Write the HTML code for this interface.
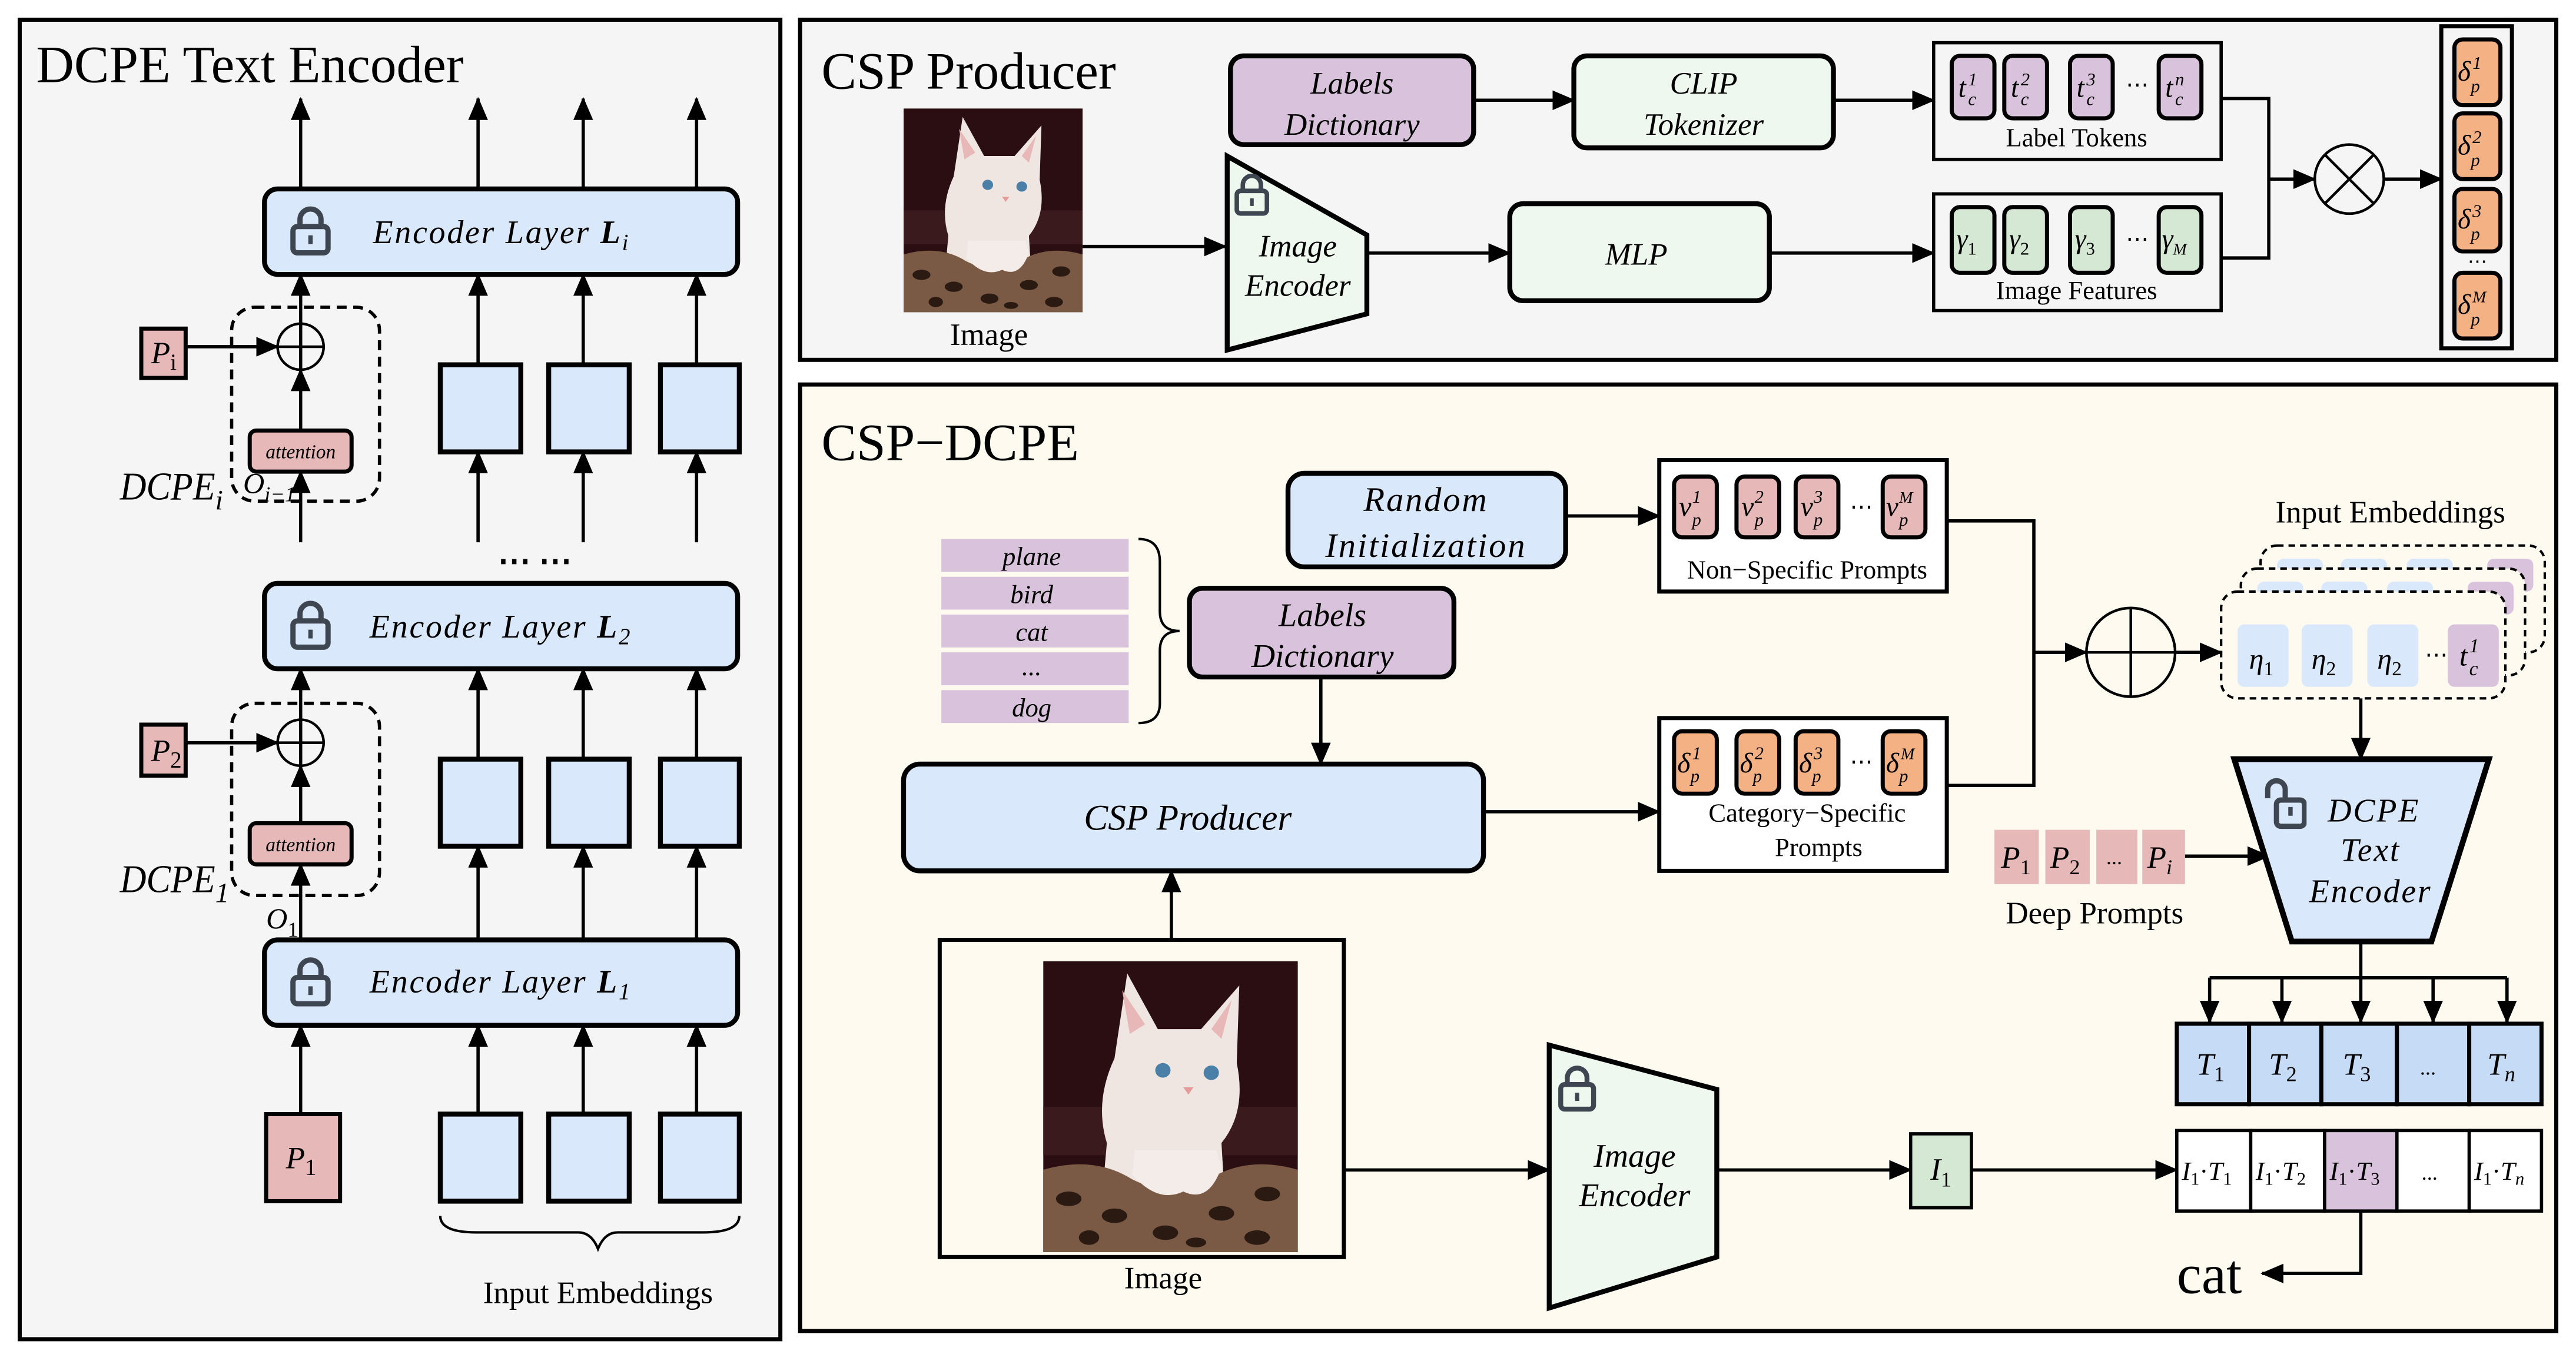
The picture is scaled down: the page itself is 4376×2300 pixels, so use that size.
<!DOCTYPE html>
<html><head><meta charset="utf-8"><style>
html,body{margin:0;padding:0;background:#fff;}
svg{display:block;}
text{font-family:"Liberation Serif",serif;}
.i{font-style:italic;}
</style></head><body>
<svg width="4376" height="2300" viewBox="0 0 1568 824" preserveAspectRatio="none" xmlns="http://www.w3.org/2000/svg">
<defs>
<marker id="a" markerUnits="userSpaceOnUse" markerWidth="14" markerHeight="12" refX="13" refY="6" orient="auto"><path d="M0,0 L14,6 L0,12 z" fill="#000"/></marker>
<symbol id="lock" viewBox="0 0 24 30"><path d="M6,14 V9 a6,6 0 0 1 12,0 V14" fill="none" stroke="#3e4651" stroke-width="3"/><rect x="2" y="13" width="20" height="15" rx="2.5" fill="none" stroke="#3e4651" stroke-width="3"/><line x1="12" y1="18" x2="12" y2="23" stroke="#3e4651" stroke-width="2.5"/></symbol>
<symbol id="ulock" viewBox="0 0 24 30"><path d="M2,12 V7 a5,5 0 0 1 10,0 V13" fill="none" stroke="#3e4651" stroke-width="3"/><rect x="7" y="13" width="16" height="15" rx="2.5" fill="none" stroke="#3e4651" stroke-width="3"/><line x1="15" y1="17" x2="15" y2="22" stroke="#3e4651" stroke-width="2.5"/></symbol>
<symbol id="cat" viewBox="0 0 100 120" preserveAspectRatio="none">
<rect width="100" height="120" fill="#2a0e12"/>
<rect y="60" width="100" height="20" fill="#3a1a1c"/>
<path d="M28,40 L33,5 L45,28 L62,28 L77,10 L76,42 Q80,62 70,75 L72,110 L22,110 L25,75 Q20,58 28,40 z" fill="#efe6e1"/>
<path d="M31,12 L34,30 L40,26 z M74,16 L70,32 L66,28 z" fill="#e8b8b8"/>
<circle cx="47" cy="45" r="3" fill="#4a7fa8"/><circle cx="66" cy="46" r="3" fill="#4a7fa8"/>
<path d="M55,52 l4,0 l-2,3 z" fill="#e79a9a"/>
<path d="M0,86 Q20,80 35,90 Q50,98 65,90 Q80,80 100,86 V120 H0 z" fill="#7a5a44"/>
<g fill="#2a1a12"><ellipse cx="10" cy="98" rx="5" ry="3"/><ellipse cx="28" cy="105" rx="5" ry="3"/><ellipse cx="48" cy="112" rx="5" ry="3"/><ellipse cx="70" cy="104" rx="5" ry="3"/><ellipse cx="88" cy="96" rx="5" ry="3"/><ellipse cx="18" cy="114" rx="4" ry="3"/><ellipse cx="84" cy="114" rx="5" ry="3"/><ellipse cx="60" cy="116" rx="4" ry="2"/></g>
<path d="M35,88 Q45,100 55,95 Q65,100 70,85 L68,78 L36,78 z" fill="#f3ece8"/>
</symbol>
</defs>

<!-- LEFT PANEL -->
<rect x="12" y="12" width="463" height="803" fill="#f5f5f5" stroke="#000" stroke-width="2.5"/>
<text x="22" y="50" font-size="32">DCPE Text Encoder</text>
<g stroke="#000" stroke-width="2" fill="none" marker-end="url(#a)">
<line x1="183" y1="115" x2="183" y2="60"/><line x1="291" y1="115" x2="291" y2="60"/><line x1="355" y1="115" x2="355" y2="60"/><line x1="424" y1="115" x2="424" y2="60"/>
<line x1="291" y1="222" x2="291" y2="167"/><line x1="355" y1="222" x2="355" y2="167"/><line x1="424" y1="222" x2="424" y2="167"/>
<line x1="291" y1="330" x2="291" y2="275"/><line x1="355" y1="330" x2="355" y2="275"/><line x1="424" y1="330" x2="424" y2="275"/>
<line x1="291" y1="462" x2="291" y2="407"/><line x1="355" y1="462" x2="355" y2="407"/><line x1="424" y1="462" x2="424" y2="407"/>
<line x1="291" y1="572" x2="291" y2="515"/><line x1="355" y1="572" x2="355" y2="515"/><line x1="424" y1="572" x2="424" y2="515"/>
<line x1="291" y1="678" x2="291" y2="624"/><line x1="355" y1="678" x2="355" y2="624"/><line x1="424" y1="678" x2="424" y2="624"/>
<line x1="183" y1="678" x2="183" y2="624"/>
<line x1="183" y1="330" x2="183" y2="287"/><line x1="183" y1="262" x2="183" y2="225"/><line x1="183" y1="197" x2="183" y2="167"/>
<line x1="183" y1="572" x2="183" y2="526"/><line x1="183" y1="501" x2="183" y2="466"/><line x1="183" y1="438" x2="183" y2="407"/>
<line x1="113" y1="211" x2="169" y2="211"/><line x1="113" y1="452" x2="169" y2="452"/>
</g>
<line x1="183" y1="197" x2="183" y2="225" stroke="#000" stroke-width="2"/><line x1="183" y1="438" x2="183" y2="466" stroke="#000" stroke-width="2"/>
<g fill="#dae8fc" stroke="#000" stroke-width="3">
<rect x="161" y="115" width="288" height="52" rx="8"/><rect x="161" y="355" width="288" height="52" rx="8"/><rect x="161" y="572" width="288" height="52" rx="8"/>
<rect x="268" y="222" width="49" height="53"/><rect x="334" y="222" width="49" height="53"/><rect x="402" y="222" width="48" height="53"/>
<rect x="268" y="462" width="49" height="53"/><rect x="334" y="462" width="49" height="53"/><rect x="402" y="462" width="48" height="53"/>
<rect x="268" y="678" width="49" height="53"/><rect x="334" y="678" width="49" height="53"/><rect x="402" y="678" width="48" height="53"/>
</g>
<use href="#lock" x="176" y="124" width="26" height="32"/><use href="#lock" x="176" y="364" width="26" height="32"/><use href="#lock" x="176" y="581" width="26" height="32"/>
<text x="227" y="148" font-size="20" class="i" letter-spacing="1">Encoder Layer <tspan font-weight="bold">L</tspan><tspan font-size="14" dy="4">i</tspan></text>
<text x="225" y="388" font-size="20" class="i" letter-spacing="1">Encoder Layer <tspan font-weight="bold">L</tspan><tspan font-size="14" dy="4">2</tspan></text>
<text x="225" y="604" font-size="20" class="i" letter-spacing="1">Encoder Layer <tspan font-weight="bold">L</tspan><tspan font-size="14" dy="4">1</tspan></text>
<text x="303" y="348" font-size="20" font-weight="bold">⋯ ⋯</text>
<rect x="141" y="187" width="90" height="118" rx="14" fill="none" stroke="#000" stroke-width="2" stroke-dasharray="6,4"/>
<rect x="141" y="428" width="90" height="117" rx="14" fill="none" stroke="#000" stroke-width="2" stroke-dasharray="6,4"/>
<g fill="none" stroke="#000" stroke-width="1.6"><circle cx="183" cy="211" r="14"/><line x1="169" y1="211" x2="197" y2="211"/><circle cx="183" cy="452" r="14"/><line x1="169" y1="452" x2="197" y2="452"/></g>
<g fill="#e6b8b8" stroke="#000" stroke-width="2.5">
<rect x="152" y="262" width="62" height="25" rx="4"/><rect x="152" y="501" width="62" height="25" rx="4"/>
<rect x="86" y="200" width="27" height="30"/><rect x="86" y="441" width="27" height="31"/><rect x="162" y="678" width="45" height="53"/>
</g>
<text x="183" y="279" font-size="12" class="i" text-anchor="middle">attention</text>
<text x="183" y="518" font-size="12" class="i" text-anchor="middle">attention</text>
<text x="92" y="221" font-size="19" class="i">P<tspan font-size="14" font-style="normal" dy="4">i</tspan></text>
<text x="92" y="463" font-size="19" class="i">P<tspan font-size="14" font-style="normal" dy="4">2</tspan></text>
<text x="174" y="711" font-size="19" class="i">P<tspan font-size="14" font-style="normal" dy="4">1</tspan></text>
<text x="73" y="304" font-size="24" class="i" textLength="58" lengthAdjust="spacingAndGlyphs">DCPE</text><text x="131" y="310" font-size="17" class="i">i</text>
<text x="73" y="543" font-size="24" class="i" textLength="58" lengthAdjust="spacingAndGlyphs">DCPE</text><text x="131" y="549" font-size="17" class="i">1</text>
<text x="148" y="300" font-size="18" class="i">O</text><text x="161" y="305" font-size="13" class="i">i−1</text>
<text x="162" y="565" font-size="18" class="i">O</text><text x="175" y="570" font-size="13">1</text>
<path d="M268,740 Q268,750 290,750 L352,750 Q360,750 364,760 Q368,750 376,750 L428,750 Q450,750 450,740" fill="none" stroke="#000" stroke-width="1.5"/>
<text x="364" y="793" font-size="19" text-anchor="middle">Input Embeddings</text>

<!-- TOP RIGHT PANEL -->
<rect x="487" y="12" width="1069" height="207" fill="#f5f5f5" stroke="#000" stroke-width="2.5"/>
<text x="500" y="54" font-size="32">CSP Producer</text>
<svg x="550" y="66" width="109" height="124" viewBox="0 0 100 120" preserveAspectRatio="none"><use href="#cat"/></svg>
<text x="602" y="210" font-size="19" text-anchor="middle">Image</text>
<g stroke="#000" stroke-width="2" fill="none" marker-end="url(#a)">
<line x1="659" y1="150" x2="746" y2="150"/><line x1="897" y1="61" x2="958" y2="61"/><line x1="1116" y1="61" x2="1177" y2="61"/>
<line x1="832" y1="154" x2="919" y2="154"/><line x1="1077" y1="154" x2="1177" y2="154"/>
<line x1="1381" y1="109" x2="1409" y2="109"/><line x1="1451" y1="109" x2="1486" y2="109"/>
</g>
<polyline points="1352,60 1381,60 1381,157 1352,157" fill="none" stroke="#000" stroke-width="2"/>
<rect x="749" y="34" width="148" height="54" rx="8" fill="#d9c3dc" stroke="#000" stroke-width="3"/>
<text x="823" y="57" font-size="19" class="i" text-anchor="middle">Labels</text><text x="823" y="82" font-size="19" class="i" text-anchor="middle">Dictionary</text>
<rect x="958" y="34" width="158" height="56" rx="8" fill="#eef8ee" stroke="#000" stroke-width="3"/>
<text x="1037" y="57" font-size="19" class="i" text-anchor="middle">CLIP</text><text x="1037" y="82" font-size="19" class="i" text-anchor="middle">Tokenizer</text>
<polygon points="747,95 832,143 832,191 747,213" fill="#eef8ee" stroke="#000" stroke-width="3"/>
<use href="#lock" x="751" y="104" width="22" height="28"/>
<text x="790" y="156" font-size="19" class="i" text-anchor="middle">Image</text><text x="790" y="180" font-size="19" class="i" text-anchor="middle">Encoder</text>
<rect x="919" y="124" width="158" height="59" rx="8" fill="#eef8ee" stroke="#000" stroke-width="3"/>
<text x="996" y="161" font-size="19" class="i" text-anchor="middle">MLP</text>
<rect x="1177" y="26" width="175" height="71" fill="#f5f5f5" stroke="#000" stroke-width="2"/>
<rect x="1177" y="118" width="175" height="71" fill="#f5f5f5" stroke="#000" stroke-width="2"/>
<g fill="#d9c3dc" stroke="#000" stroke-width="2.5"><rect x="1188" y="34" width="26" height="38" rx="5"/><rect x="1220" y="34" width="26" height="38" rx="5"/><rect x="1260" y="34" width="26" height="38" rx="5"/><rect x="1314" y="34" width="26" height="38" rx="5"/></g>
<g fill="#d5e8d4" stroke="#000" stroke-width="2.5"><rect x="1188" y="126" width="26" height="40" rx="5"/><rect x="1220" y="126" width="26" height="40" rx="5"/><rect x="1260" y="126" width="26" height="40" rx="5"/><rect x="1314" y="126" width="26" height="40" rx="5"/></g>
<g font-size="17" class="i">
<text x="1192" y="59">t</text><text x="1198" y="52" font-size="11">1</text><text x="1198" y="64" font-size="11">c</text>
<text x="1224" y="59">t</text><text x="1230" y="52" font-size="11">2</text><text x="1230" y="64" font-size="11">c</text>
<text x="1264" y="59">t</text><text x="1270" y="52" font-size="11">3</text><text x="1270" y="64" font-size="11">c</text>
<text x="1318" y="59">t</text><text x="1324" y="52" font-size="11">n</text><text x="1324" y="64" font-size="11">c</text>
<text x="1191" y="151">γ<tspan font-size="11" font-style="normal" dy="4">1</tspan></text>
<text x="1223" y="151">γ<tspan font-size="11" font-style="normal" dy="4">2</tspan></text>
<text x="1263" y="151">γ<tspan font-size="11" font-style="normal" dy="4">3</tspan></text>
<text x="1316" y="151">γ<tspan font-size="10" dy="4">M</tspan></text>
</g>
<text x="1294" y="56" font-size="14">⋯</text><text x="1294" y="150" font-size="14">⋯</text>
<text x="1264" y="89" font-size="16" text-anchor="middle">Label Tokens</text>
<text x="1264" y="182" font-size="16" text-anchor="middle">Image Features</text>
<g fill="none" stroke="#000" stroke-width="1.6"><circle cx="1430" cy="109" r="21"/><line x1="1415" y1="94" x2="1445" y2="124"/><line x1="1445" y1="94" x2="1415" y2="124"/></g>
<rect x="1486" y="16" width="43" height="196" fill="#f5f5f5" stroke="#000" stroke-width="2.5"/>
<g fill="#f4b183" stroke="#000" stroke-width="2.5"><rect x="1494" y="24" width="28" height="40" rx="5"/><rect x="1494" y="69" width="28" height="40" rx="5"/><rect x="1494" y="115" width="28" height="38" rx="5"/><rect x="1494" y="166" width="28" height="40" rx="5"/></g>
<g font-size="17" class="i">
<text x="1496" y="49">δ</text><text x="1505" y="42" font-size="11">1</text><text x="1504" y="56" font-size="11">p</text>
<text x="1496" y="94">δ</text><text x="1505" y="87" font-size="11">2</text><text x="1504" y="101" font-size="11">p</text>
<text x="1496" y="139">δ</text><text x="1505" y="132" font-size="11">3</text><text x="1504" y="146" font-size="11">p</text>
<text x="1496" y="191">δ</text><text x="1505" y="184" font-size="10">M</text><text x="1504" y="198" font-size="11">p</text>
</g>
<text x="1508" y="163" font-size="12" text-anchor="middle">⋯</text>

<!-- BOTTOM RIGHT PANEL -->
<rect x="487" y="234" width="1069" height="576" fill="#fefaf0" stroke="#000" stroke-width="2.5"/>
<text x="500" y="280" font-size="32">CSP−DCPE</text>
<g stroke="#000" stroke-width="2" fill="none" marker-end="url(#a)">
<line x1="953" y1="314" x2="1010" y2="314"/><line x1="804" y1="412" x2="804" y2="465"/><line x1="903" y1="494" x2="1010" y2="494"/>
<line x1="1238" y1="397" x2="1270" y2="397"/><line x1="1324" y1="397" x2="1352" y2="397"/><line x1="1437" y1="425" x2="1437" y2="462"/>
<line x1="1330" y1="521" x2="1381" y2="521"/>
<line x1="713" y1="572" x2="713" y2="530"/><line x1="818" y1="712" x2="943" y2="712"/><line x1="1045" y1="712" x2="1163" y2="712"/><line x1="1200" y1="712" x2="1325" y2="712"/>
<polyline points="1437,737 1437,775 1377,775"/>
<line x1="1345" y1="595" x2="1345" y2="622"/><line x1="1389" y1="595" x2="1389" y2="622"/><line x1="1437" y1="573" x2="1437" y2="622"/><line x1="1481" y1="595" x2="1481" y2="622"/><line x1="1526" y1="595" x2="1526" y2="622"/>
</g>
<line x1="1345" y1="595" x2="1526" y2="595" stroke="#000" stroke-width="2"/>
<polyline points="1185,317 1238,317 1238,478 1185,478" fill="none" stroke="#000" stroke-width="2"/>
<rect x="784" y="288" width="169" height="57" rx="10" fill="#dae8fc" stroke="#000" stroke-width="3"/>
<text x="868" y="311" font-size="21" class="i" text-anchor="middle" letter-spacing="1">Random</text>
<text x="868" y="339" font-size="21" class="i" text-anchor="middle" letter-spacing="1">Initialization</text>
<rect x="1010" y="280" width="175" height="80" fill="#fff" stroke="#000" stroke-width="2.5"/>
<g fill="#e6b8b8" stroke="#000" stroke-width="2.5"><rect x="1019" y="290" width="26" height="37" rx="5"/><rect x="1057" y="290" width="26" height="37" rx="5"/><rect x="1093" y="290" width="26" height="37" rx="5"/><rect x="1146" y="290" width="26" height="37" rx="5"/></g>
<g font-size="17" class="i">
<text x="1022" y="314">v</text><text x="1030" y="306" font-size="11">1</text><text x="1030" y="320" font-size="11">p</text>
<text x="1060" y="314">v</text><text x="1068" y="306" font-size="11">2</text><text x="1068" y="320" font-size="11">p</text>
<text x="1096" y="314">v</text><text x="1104" y="306" font-size="11">3</text><text x="1104" y="320" font-size="11">p</text>
<text x="1148" y="314">v</text><text x="1156" y="306" font-size="10">M</text><text x="1156" y="320" font-size="11">p</text>
</g>
<text x="1126" y="313" font-size="14">⋯</text>
<text x="1100" y="352" font-size="16" text-anchor="middle">Non−Specific Prompts</text>
<g fill="#d9c3dc"><rect x="573" y="328" width="114" height="20"/><rect x="573" y="351" width="114" height="20"/><rect x="573" y="374" width="114" height="20"/><rect x="573" y="397" width="114" height="20"/><rect x="573" y="420" width="114" height="20"/></g>
<g font-size="16" class="i" text-anchor="middle"><text x="628" y="344">plane</text><text x="628" y="367">bird</text><text x="628" y="390">cat</text><text x="628" y="411">...</text><text x="628" y="436">dog</text></g>
<path d="M693,328 Q706,328 706,342 L706,372 Q706,384 718,384 Q706,384 706,396 L706,428 Q706,440 693,440" fill="none" stroke="#000" stroke-width="1.5"/>
<rect x="724" y="358" width="161" height="54" rx="8" fill="#d9c3dc" stroke="#000" stroke-width="3"/>
<text x="805" y="381" font-size="20" class="i" text-anchor="middle">Labels</text><text x="805" y="406" font-size="20" class="i" text-anchor="middle">Dictionary</text>
<rect x="550" y="465" width="353" height="65" rx="10" fill="#dae8fc" stroke="#000" stroke-width="3"/>
<text x="723" y="505" font-size="22" class="i" text-anchor="middle">CSP Producer</text>
<rect x="1010" y="437" width="175" height="93" fill="#fff" stroke="#000" stroke-width="2.5"/>
<g fill="#f4b183" stroke="#000" stroke-width="2.5"><rect x="1019" y="445" width="26" height="38" rx="5"/><rect x="1057" y="445" width="26" height="38" rx="5"/><rect x="1093" y="445" width="26" height="38" rx="5"/><rect x="1146" y="445" width="26" height="38" rx="5"/></g>
<g font-size="17" class="i">
<text x="1021" y="470">δ</text><text x="1030" y="462" font-size="11">1</text><text x="1029" y="476" font-size="11">p</text>
<text x="1059" y="470">δ</text><text x="1068" y="462" font-size="11">2</text><text x="1067" y="476" font-size="11">p</text>
<text x="1095" y="470">δ</text><text x="1104" y="462" font-size="11">3</text><text x="1103" y="476" font-size="11">p</text>
<text x="1148" y="470">δ</text><text x="1157" y="462" font-size="10">M</text><text x="1156" y="476" font-size="11">p</text>
</g>
<text x="1126" y="468" font-size="14">⋯</text>
<text x="1100" y="500" font-size="16" text-anchor="middle">Category−Specific</text>
<text x="1107" y="521" font-size="16" text-anchor="middle">Prompts</text>
<g fill="none" stroke="#000" stroke-width="1.6"><circle cx="1297" cy="397" r="27"/><line x1="1270" y1="397" x2="1324" y2="397"/><line x1="1297" y1="370" x2="1297" y2="424"/></g>
<text x="1455" y="318" font-size="19" text-anchor="middle">Input Embeddings</text>
<rect x="1376" y="332" width="173" height="65" rx="10" fill="#fefaf0" stroke="#000" stroke-width="1.5" stroke-dasharray="4,3"/>
<g fill="#dae8fc"><rect x="1386" y="340" width="28" height="20" rx="4"/><rect x="1425" y="340" width="28" height="20" rx="4"/><rect x="1465" y="340" width="28" height="20" rx="4"/></g><rect x="1514" y="340" width="28" height="20" rx="4" fill="#d9c3dc"/>
<rect x="1364" y="346" width="173" height="65" rx="10" fill="#fefaf0" stroke="#000" stroke-width="1.5" stroke-dasharray="4,3"/>
<g fill="#dae8fc"><rect x="1374" y="354" width="28" height="20" rx="4"/><rect x="1413" y="354" width="28" height="20" rx="4"/><rect x="1453" y="354" width="28" height="20" rx="4"/></g><rect x="1502" y="354" width="28" height="20" rx="4" fill="#d9c3dc"/>
<rect x="1352" y="360" width="173" height="65" rx="10" fill="#fefaf0" stroke="#000" stroke-width="1.5" stroke-dasharray="4,3"/>
<g fill="#dae8fc"><rect x="1362" y="380" width="31" height="38" rx="4"/><rect x="1401" y="380" width="31" height="38" rx="4"/><rect x="1441" y="380" width="31" height="38" rx="4"/></g><rect x="1490" y="380" width="31" height="38" rx="4" fill="#d9c3dc"/>
<g font-size="18" class="i">
<text x="1369" y="407">η<tspan font-size="12" font-style="normal" dy="4">1</tspan></text>
<text x="1407" y="407">η<tspan font-size="12" font-style="normal" dy="4">2</tspan></text>
<text x="1447" y="407">η<tspan font-size="12" font-style="normal" dy="4">2</tspan></text>
<text x="1497" y="405">t</text><text x="1503" y="397" font-size="12">1</text><text x="1503" y="411" font-size="12">c</text>
</g>
<text x="1476" y="403" font-size="14">⋯</text>
<polygon points="1360,462 1515,462 1480,573 1395,573" fill="#dae8fc" stroke="#000" stroke-width="3.5"/>
<use href="#ulock" x="1378" y="473" width="26" height="32"/>
<g font-size="20" class="i" text-anchor="middle" letter-spacing="1"><text x="1445" y="500">DCPE</text><text x="1443" y="524">Text</text><text x="1443" y="549">Encoder</text></g>
<g fill="#e6b8b8"><rect x="1214" y="505" width="27" height="33"/><rect x="1245" y="505" width="27" height="33"/><rect x="1276" y="505" width="25" height="33"/><rect x="1304" y="505" width="26" height="33"/></g>
<g font-size="19" class="i">
<text x="1218" y="528">P<tspan font-size="13" font-style="normal" dy="4">1</tspan></text>
<text x="1248" y="528">P<tspan font-size="13" font-style="normal" dy="4">2</tspan></text>
<text x="1307" y="528">P<tspan font-size="13" dy="4">i</tspan></text>
</g>
<text x="1282" y="526" font-size="13">...</text>
<text x="1275" y="562" font-size="19" text-anchor="middle">Deep Prompts</text>
<g fill="#c6dbf5" stroke="#000" stroke-width="2.5"><rect x="1325" y="623" width="44" height="49"/><rect x="1369" y="623" width="44" height="49"/><rect x="1413" y="623" width="46" height="49"/><rect x="1459" y="623" width="44" height="49"/><rect x="1503" y="623" width="44" height="49"/></g>
<g font-size="19" class="i">
<text x="1337" y="654">T<tspan font-size="13" font-style="normal" dy="4">1</tspan></text>
<text x="1381" y="654">T<tspan font-size="13" font-style="normal" dy="4">2</tspan></text>
<text x="1426" y="654">T<tspan font-size="13" font-style="normal" dy="4">3</tspan></text>
<text x="1514" y="654">T<tspan font-size="13" dy="4">n</tspan></text>
</g>
<text x="1473" y="654" font-size="13">...</text>
<rect x="572" y="572" width="246" height="193" fill="#fefaf0" stroke="#000" stroke-width="2.5"/>
<svg x="635" y="585" width="155" height="177" viewBox="0 0 100 120" preserveAspectRatio="none"><use href="#cat"/></svg>
<text x="708" y="784" font-size="19" text-anchor="middle">Image</text>
<polygon points="943,636 1045,663 1045,765 943,796" fill="#eef8ee" stroke="#000" stroke-width="3"/>
<use href="#lock" x="948" y="647" width="24" height="30"/>
<text x="995" y="710" font-size="20" class="i" text-anchor="middle">Image</text><text x="995" y="734" font-size="20" class="i" text-anchor="middle">Encoder</text>
<rect x="1163" y="690" width="37" height="45" fill="#d5e8d4" stroke="#000" stroke-width="2"/>
<text x="1175" y="718" font-size="19" class="i">I<tspan font-size="13" font-style="normal" dy="4">1</tspan></text>
<g stroke="#000" stroke-width="2"><rect x="1325" y="688" width="45" height="49" fill="#fff"/><rect x="1370" y="688" width="45" height="49" fill="#fff"/><rect x="1415" y="688" width="44" height="49" fill="#d9c3dc"/><rect x="1459" y="688" width="44" height="49" fill="#fff"/><rect x="1503" y="688" width="44" height="49" fill="#fff"/></g>
<g font-size="16" class="i">
<text x="1328" y="718">I<tspan font-size="11" font-style="normal" dy="3">1</tspan><tspan font-style="normal" dy="-3">·</tspan>T<tspan font-size="11" font-style="normal" dy="3">1</tspan></text>
<text x="1373" y="718">I<tspan font-size="11" font-style="normal" dy="3">1</tspan><tspan font-style="normal" dy="-3">·</tspan>T<tspan font-size="11" font-style="normal" dy="3">2</tspan></text>
<text x="1418" y="718">I<tspan font-size="11" font-style="normal" dy="3">1</tspan><tspan font-style="normal" dy="-3">·</tspan>T<tspan font-size="11" font-style="normal" dy="3">3</tspan></text>
<text x="1506" y="718">I<tspan font-size="11" font-style="normal" dy="3">1</tspan><tspan font-style="normal" dy="-3">·</tspan>T<tspan font-size="11" dy="3">n</tspan></text>
</g>
<text x="1474" y="718" font-size="13">...</text>
<text x="1325" y="787" font-size="34">cat</text>
</svg>
</body></html>
